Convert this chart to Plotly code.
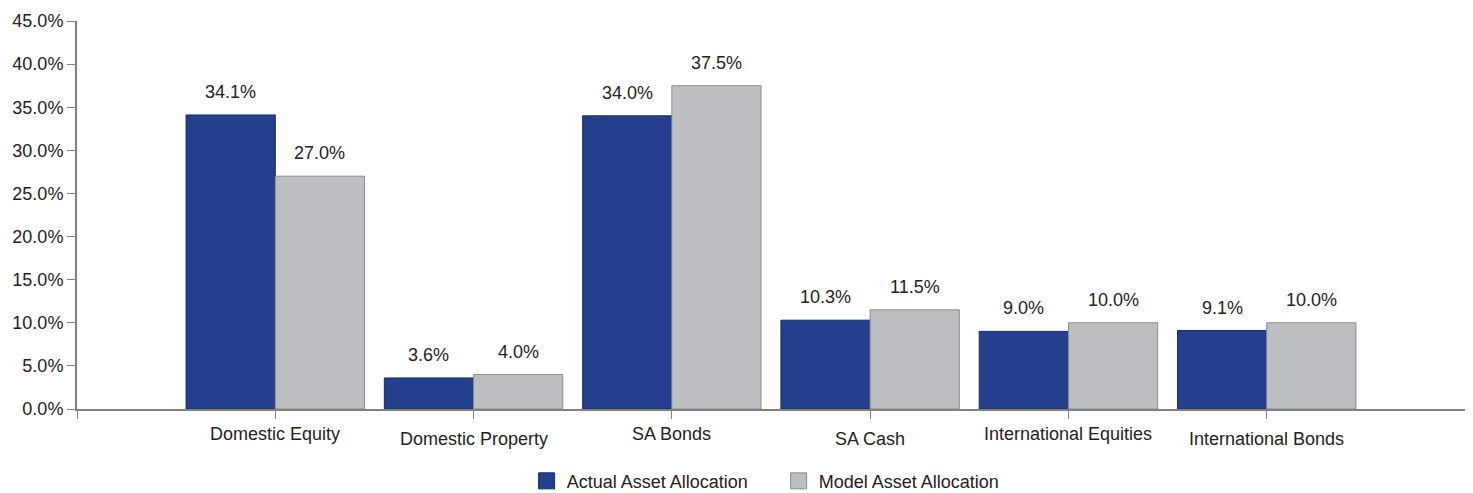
import plotly.graph_objects as go

categories = ["Domestic Equity", "Domestic Property", "SA Bonds", "SA Cash",
              "International Equities", "International Bonds"]
actual = [34.1, 3.6, 34.0, 10.3, 9.0, 9.1]
model = [27.0, 4.0, 37.5, 11.5, 10.0, 10.0]
series_names = ["Actual Asset Allocation", "Model Asset Allocation"]
y_ticks = [0, 5, 10, 15, 20, 25, 30, 35, 40, 45]

BLUE = "#243F8D"
GREY = "#BDBEC2"
FONT = "Liberation Sans, Arial, sans-serif"
TXT = "#222222"
FS = 18

pos = list(range(1, len(categories) + 1))

fig = go.Figure()
fig.add_trace(go.Bar(x=pos, y=actual, name=series_names[0], showlegend=False,
                     marker=dict(color=BLUE, line=dict(color="#172a66", width=1))))
fig.add_trace(go.Bar(x=pos, y=model, name=series_names[1], showlegend=False,
                     marker=dict(color=GREY, line=dict(color="#8c8c8c", width=1))))
# legend entries with larger square swatches
for name, col, lc in ((series_names[0], BLUE, "#172a66"), (series_names[1], GREY, "#8c8c8c")):
    fig.add_trace(go.Scatter(x=[None], y=[None], mode="markers", name=name,
                             marker=dict(symbol="square", size=17, color=col,
                                         line=dict(color=lc, width=1))))

annotations = []
for i, (a, m) in enumerate(zip(actual, model)):
    p = pos[i]
    for xv, v in ((p - 0.225, a), (p + 0.225, m)):
        annotations.append(dict(x=xv, y=v, xref="x", yref="y", text=f"{v:.1f}%",
                                showarrow=False, yanchor="bottom", yshift=11,
                                font=dict(family=FONT, size=FS, color=TXT)))
    annotations.append(dict(x=p, y=0, xref="x", yref="paper", text=categories[i],
                            showarrow=False, yanchor="middle",
                            yshift=-25 if i % 2 == 0 else -30,
                            font=dict(family=FONT, size=FS, color=TXT)))

fig.update_layout(
    width=1465, height=485,
    margin=dict(l=69, r=8, t=13, b=84, autoexpand=False),
    paper_bgcolor="white", plot_bgcolor="white",
    barmode="group", bargap=0.1, bargroupgap=0,
    font=dict(family=FONT, size=FS, color=TXT),
    showlegend=True,
    legend=dict(orientation="h", x=0.5055, xanchor="center", y=-0.186, yanchor="middle",
                font=dict(family=FONT, size=FS, color=TXT), itemwidth=30,
                entrywidth=207, entrywidthmode="pixels",
                itemsizing="trace", traceorder="normal"),
    annotations=annotations,
)
fig.update_xaxes(range=[0, len(categories) + 1], tickvals=list(range(0, len(categories) + 2)),
                 showticklabels=False, ticks="outside", ticklen=8, tickcolor="#808080",
                 showline=True, linecolor="#808080", linewidth=2, showgrid=False,
                 zeroline=False, automargin=False)
fig.update_yaxes(range=[0, 45], tickvals=y_ticks, ticktext=[f"{t:.1f}%" for t in y_ticks],
                 ticks="outside", ticklen=8, tickcolor="#808080",
                 showline=True, linecolor="#808080", linewidth=2, showgrid=False,
                 zeroline=False, automargin=False,
                 tickfont=dict(family=FONT, size=FS, color=TXT))

fig.write_html("out.html")
